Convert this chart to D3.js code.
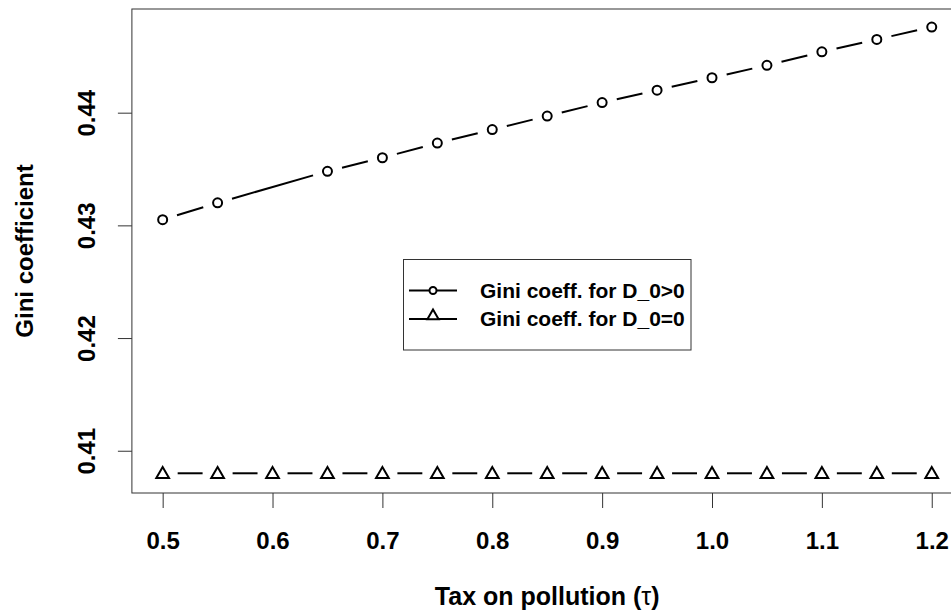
<!DOCTYPE html>
<html>
<head>
<meta charset="utf-8">
<script src="https://cdn.jsdelivr.net/npm/d3@7"></script>
<style>
  html, body { margin: 0; padding: 0; background: #fff; }
  svg { display: block; font-family: "Liberation Sans", Arial, sans-serif; }
</style>
</head>
<body>
<div id="chart"></div>
<script>
// Gini coefficient vs. tax on pollution (tau)

// Données
const taxLevels = [0.5, 0.55, 0.6, 0.65, 0.7, 0.75, 0.8, 0.85, 0.9, 0.95, 1.0, 1.05, 1.1, 1.15, 1.2];
// pas de point à 0.6 pour la série D_0>0
const giniPositive = [0.4305, 0.4320, null, 0.4348, 0.4360, 0.4373, 0.4385, 0.4397, 0.4409, 0.4420, 0.4431, 0.4442, 0.4454, 0.4465, 0.4476];
const giniZero = [0.4080, 0.4080, 0.4080, 0.4080, 0.4080, 0.4080, 0.4080, 0.4080, 0.4080, 0.4080, 0.4080, 0.4080, 0.4080, 0.4080, 0.4080];

const xTicks = [0.5, 0.6, 0.7, 0.8, 0.9, 1.0, 1.1, 1.2];
const yTicks = [0.41, 0.42, 0.43, 0.44];
const legendLabels = ["Gini coeff. for D_0>0", "Gini coeff. for D_0=0"];

const width = 951;
const height = 611;
const plot = { left: 131.9, right: 962.5, top: 9, bottom: 493 };

const svg = d3.select("#chart")
  .append("svg")
  .attr("width", width)
  .attr("height", height);

const x = d3.scaleLinear()
  .domain([0.472, 1.228])
  .range([plot.left, plot.right]);

const y = d3.scaleLinear()
  .domain([0.40625, 0.4492])
  .range([plot.bottom, plot.top]);

// Axe X
const gx = svg.append("g")
  .attr("transform", `translate(0,${plot.bottom})`)
  .call(d3.axisBottom(x)
    .tickValues(xTicks)
    .tickSize(15)
    .tickPadding(24)
    .tickFormat(d3.format(".1f")));
gx.select(".domain").remove();
gx.selectAll("line").attr("stroke", "#333");
gx.selectAll("text")
  .attr("fill", "#000")
  .style("font-size", "24px")
  .style("font-weight", "bold")
  .style("font-family", "'Liberation Sans', Arial, sans-serif");

// Axe Y (libellés verticaux)
const gy = svg.append("g")
  .attr("transform", `translate(${plot.left},0)`)
  .call(d3.axisLeft(y)
    .tickValues(yTicks)
    .tickSize(14)
    .tickFormat(d3.format(".2f")));
gy.select(".domain").remove();
gy.selectAll("line").attr("stroke", "#333");
gy.selectAll("text")
  .attr("x", 0)
  .attr("dy", 0)
  .attr("text-anchor", "middle")
  .attr("transform", `translate(${95 - plot.left},0) rotate(-90)`)
  .attr("fill", "#000")
  .style("font-size", "24px")
  .style("font-weight", "bold")
  .style("font-family", "'Liberation Sans', Arial, sans-serif");

// Cadre
svg.append("rect")
  .attr("x", plot.left)
  .attr("y", plot.top)
  .attr("width", plot.right - plot.left)
  .attr("height", plot.bottom - plot.top)
  .attr("fill", "none")
  .attr("stroke", "#333")
  .attr("stroke-width", 1);

// Titres des axes
svg.append("text")
  .attr("x", (plot.left + plot.right) / 2)
  .attr("y", 605)
  .attr("text-anchor", "middle")
  .style("font-size", "25px")
  .style("font-weight", "bold")
  .text("Tax on pollution (")
  .append("tspan")
  .style("font-weight", "normal")
  .text("τ")
  .append("tspan")
  .style("font-weight", "bold")
  .text(")");

svg.append("text")
  .attr("transform", `translate(33,${(plot.top + plot.bottom) / 2}) rotate(-90)`)
  .attr("text-anchor", "middle")
  .style("font-size", "24px")
  .style("font-weight", "bold")
  .text("Gini coefficient");

// Séries : type "b" (segments interrompus autour des points)
const gap = 15;

function seriesPoints(values) {
  return taxLevels
    .map((t, i) => ({ t, v: values[i] }))
    .filter(d => d.v !== null)
    .map(d => ({ px: x(d.t), py: y(d.v) }));
}

function gapSegments(pts) {
  const segs = [];
  for (let i = 0; i < pts.length - 1; i++) {
    const a = pts[i], b = pts[i + 1];
    const dx = b.px - a.px, dy = b.py - a.py;
    const len = Math.hypot(dx, dy);
    if (len <= 2 * gap) continue;
    const ux = dx / len, uy = dy / len;
    segs.push({
      x1: a.px + ux * gap, y1: a.py + uy * gap,
      x2: b.px - ux * gap, y2: b.py - uy * gap
    });
  }
  return segs;
}

const posPts = seriesPoints(giniPositive);
const zeroPts = seriesPoints(giniZero);

svg.append("g")
  .selectAll("line")
  .data(gapSegments(posPts).concat(gapSegments(zeroPts)))
  .join("line")
  .attr("x1", d => d.x1)
  .attr("y1", d => d.y1)
  .attr("x2", d => d.x2)
  .attr("y2", d => d.y2)
  .attr("stroke", "#000")
  .attr("stroke-width", 2);

svg.append("g")
  .selectAll("circle")
  .data(posPts)
  .join("circle")
  .attr("cx", d => d.px)
  .attr("cy", d => d.py)
  .attr("r", 4.5)
  .attr("fill", "none")
  .attr("stroke", "#000")
  .attr("stroke-width", 2);

const tri = d3.symbol().type(d3.symbolTriangle).size(70);
svg.append("g")
  .selectAll("path")
  .data(zeroPts)
  .join("path")
  .attr("transform", d => `translate(${d.px},${d.py + 1})`)
  .attr("d", tri)
  .attr("fill", "none")
  .attr("stroke", "#000")
  .attr("stroke-width", 2);

// Légende
const legend = svg.append("g");
legend.append("rect")
  .attr("x", 403.5)
  .attr("y", 259.5)
  .attr("width", 287.5)
  .attr("height", 90.5)
  .attr("fill", "#fff")
  .attr("stroke", "#333")
  .attr("stroke-width", 1);

const rowY = [290.5, 319];
legendLabels.forEach((label, i) => {
  const ry = rowY[i];
  legend.append("line")
    .attr("x1", 409).attr("x2", 457)
    .attr("y1", ry).attr("y2", ry)
    .attr("stroke", "#000")
    .attr("stroke-width", 2);
  if (i === 0) {
    legend.append("circle")
      .attr("cx", 433).attr("cy", ry)
      .attr("r", 3.5)
      .attr("fill", "#fff")
      .attr("stroke", "#000")
      .attr("stroke-width", 2);
  } else {
    legend.append("path")
      .attr("transform", `translate(433,${ry - 3})`)
      .attr("d", d3.symbol().type(d3.symbolTriangle).size(55))
      .attr("fill", "#fff")
      .attr("stroke", "#000")
      .attr("stroke-width", 2);
  }
  legend.append("text")
    .attr("x", 480)
    .attr("y", ry + 7)
    .style("font-size", "21px")
    .style("font-weight", "bold")
    .text(label);
});
</script>
</body>
</html>
